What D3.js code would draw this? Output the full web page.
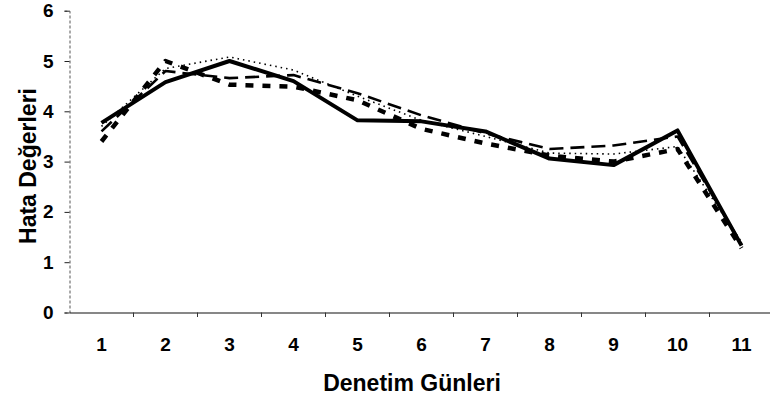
<!DOCTYPE html>
<html>
<head>
<meta charset="utf-8">
<script src="https://cdn.jsdelivr.net/npm/d3@7"></script>
<style>
  body { margin: 0; background: #fff; }
  text { font-family: "Liberation Sans", Arial, sans-serif; font-weight: bold; fill: #000; }
</style>
</head>
<body>
<div id="chart"></div>
<script>
// days on the x axis
const days = [1, 2, 3, 4, 5, 6, 7, 8, 9, 10, 11];
const yTicks = [0, 1, 2, 3, 4, 5, 6];

// four series
const solidVals  = [3.77, 4.58, 5.0, 4.6, 3.82, 3.8, 3.6, 3.06, 2.93, 3.62, 1.33];
const longDash   = [3.6, 4.8, 4.66, 4.72, 4.36, 3.92, 3.56, 3.25, 3.32, 3.5, 1.36];
const shortDash  = [3.4, 5.0, 4.53, 4.49, 4.22, 3.65, 3.36, 3.12, 3.0, 3.25, 1.28];
const dotted     = [3.7, 4.85, 5.08, 4.82, 4.3, 3.82, 3.5, 3.17, 3.15, 3.3, 1.4];

const width = 770, height = 403;

const svg = d3.select("#chart").append("svg")
  .attr("width", width)
  .attr("height", height);

const x = d3.scaleBand().domain(days).range([69.5, 773.5]).padding(0);
const y = d3.scaleLinear().domain([0, 6]).range([312.5, 10.7]);
const cx = d => x(d) + x.bandwidth() / 2;

// y axis
const yAxis = svg.append("g")
  .attr("transform", "translate(69.5,0)")
  .call(d3.axisLeft(y).tickValues(yTicks).tickSize(5).tickPadding(11).tickFormat(d3.format("d")));
yAxis.select(".domain").attr("stroke", "#555").attr("stroke-dasharray", "3,2");
yAxis.selectAll(".tick line").attr("stroke", "#222");
yAxis.selectAll("text").style("font-size", "19px").attr("fill", "#000");

// x axis: labels centred in bands, ticks on band edges
const xAxis = svg.append("g")
  .attr("transform", "translate(0,312.5)")
  .call(d3.axisBottom(x).tickSize(0).tickPadding(25));
xAxis.select(".domain").attr("stroke", "#111").attr("stroke-width", 1.2);
xAxis.selectAll("text").style("font-size", "19px").attr("fill", "#000");

svg.append("g").selectAll("line")
  .data(days.slice(1))
  .enter().append("line")
  .attr("x1", d => x(d)).attr("x2", d => x(d))
  .attr("y1", 312.5).attr("y2", 317)
  .attr("stroke", "#333");

// lines
const series = [
  { vals: dotted, w: 1.6, dash: "1.5,4" },
  { vals: longDash, w: 2.6, dash: "14,7" },
  { vals: shortDash, w: 4.5, dash: "8,9" },
  { vals: solidVals, w: 4, dash: null }
];

const line = d3.line().x((v, i) => cx(days[i])).y(v => y(v));

svg.append("g").selectAll("path")
  .data(series)
  .enter().append("path")
  .attr("d", d => line(d.vals))
  .attr("fill", "none")
  .attr("stroke", "#000")
  .attr("stroke-width", d => d.w)
  .attr("stroke-dasharray", d => d.dash)
  .attr("stroke-linejoin", "round");

// titles
svg.append("text")
  .attr("x", 412).attr("y", 391)
  .attr("text-anchor", "middle")
  .style("font-size", "23px")
  .text("Denetim Günleri");

svg.append("text")
  .attr("transform", "translate(36,166) rotate(-90)")
  .attr("text-anchor", "middle")
  .style("font-size", "23px")
  .text("Hata Değerleri");
</script>
</body>
</html>
